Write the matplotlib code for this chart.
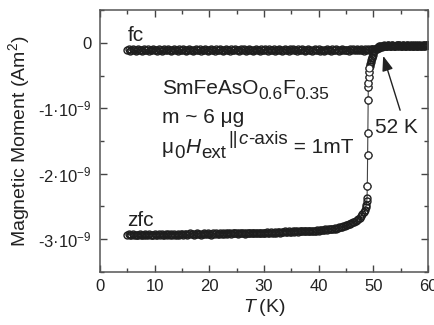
import numpy as np
import matplotlib.pyplot as plt
from matplotlib.ticker import MultipleLocator

plt.rcParams['font.family'] = ['Liberation Sans', 'DejaVu Sans']
plt.rcParams['mathtext.fontset'] = 'custom'
plt.rcParams['mathtext.rm'] = 'Liberation Sans'
plt.rcParams['mathtext.it'] = 'Liberation Sans:italic'
plt.rcParams['mathtext.bf'] = 'Liberation Sans:bold'

# field-cooled curve, T in K, moment in units of 1e-9 A m^2
fc_T = [5.0, 5.25, 5.5, 5.75, 6.0, 6.25, 6.5, 6.75,
        7.0, 7.25, 7.5, 7.75, 8.0, 8.25, 8.5, 8.75,
        9.0, 9.25, 9.5, 9.75, 10.0, 10.25, 10.5, 10.75,
        11.0, 11.25, 11.5, 11.75, 12.0, 12.25, 12.5, 12.75,
        13.0, 13.25, 13.5, 13.75, 14.0, 14.25, 14.5, 14.75,
        15.0, 15.25, 15.5, 15.75, 16.0, 16.25, 16.5, 16.75,
        17.0, 17.25, 17.5, 17.75, 18.0, 18.25, 18.5, 18.75,
        19.0, 19.25, 19.5, 19.75, 20.0, 20.25, 20.5, 20.75,
        21.0, 21.25, 21.5, 21.75, 22.0, 22.25, 22.5, 22.75,
        23.0, 23.25, 23.5, 23.75, 24.0, 24.25, 24.5, 24.75,
        25.0, 25.25, 25.5, 25.75, 26.0, 26.25, 26.5, 26.75,
        27.0, 27.25, 27.5, 27.75, 28.0, 28.25, 28.5, 28.75,
        29.0, 29.25, 29.5, 29.75, 30.0, 30.25, 30.5, 30.75,
        31.0, 31.25, 31.5, 31.75, 32.0, 32.25, 32.5, 32.75,
        33.0, 33.25, 33.5, 33.75, 34.0, 34.25, 34.5, 34.75,
        35.0, 35.25, 35.5, 35.75, 36.0, 36.25, 36.5, 36.75,
        37.0, 37.25, 37.5, 37.75, 38.0, 38.25, 38.5, 38.75,
        39.0, 39.25, 39.5, 39.75, 40.0, 40.25, 40.5, 40.75,
        41.0, 41.25, 41.5, 41.75, 42.0, 42.25, 42.5, 42.75,
        43.0, 43.25, 43.5, 43.75, 44.0, 44.25, 44.5, 44.75,
        45.0, 45.25, 45.5, 45.75, 46.0, 46.25, 46.5, 46.75,
        47.0, 47.25, 47.5, 47.75, 48.0, 48.25, 48.5, 48.75,
        49.0, 49.25, 49.5, 49.75, 50.0, 50.25, 50.5, 50.75,
        51.0, 51.25, 51.5, 51.75, 52.0, 52.25, 52.5, 52.75,
        53.0, 53.25, 53.5, 53.75, 54.0, 54.25, 54.5, 54.75,
        55.0, 55.25, 55.5, 55.75, 56.0, 56.25, 56.5, 56.75,
        57.0, 57.25, 57.5, 57.75, 58.0, 58.25, 58.5, 58.75,
        59.0, 59.25, 59.5, 59.75, 60.0]
fc_M = [-0.11, -0.10, -0.12, -0.11, -0.10, -0.11, -0.12, -0.11,
        -0.10, -0.11, -0.11, -0.12, -0.10, -0.11, -0.11, -0.10,
        -0.12, -0.11, -0.11, -0.10, -0.11, -0.11, -0.12, -0.10,
        -0.11, -0.12, -0.11, -0.10, -0.11, -0.11, -0.10, -0.11,
        -0.12, -0.11, -0.10, -0.11, -0.11, -0.12, -0.10, -0.11,
        -0.11, -0.10, -0.11, -0.12, -0.11, -0.10, -0.11, -0.11,
        -0.12, -0.11, -0.10, -0.11, -0.11, -0.10, -0.12, -0.11,
        -0.11, -0.10, -0.11, -0.12, -0.11, -0.10, -0.11, -0.11,
        -0.12, -0.10, -0.11, -0.11, -0.10, -0.11, -0.12, -0.11,
        -0.10, -0.11, -0.11, -0.12, -0.10, -0.11, -0.11, -0.10,
        -0.11, -0.11, -0.12, -0.10, -0.11, -0.10, -0.11, -0.12,
        -0.11, -0.10, -0.11, -0.11, -0.12, -0.11, -0.10, -0.11,
        -0.11, -0.12, -0.10, -0.11, -0.11, -0.10, -0.11, -0.12,
        -0.10, -0.11, -0.11, -0.10, -0.12, -0.11, -0.11, -0.10,
        -0.11, -0.12, -0.11, -0.10, -0.11, -0.11, -0.12, -0.10,
        -0.11, -0.10, -0.11, -0.11, -0.12, -0.10, -0.11, -0.11,
        -0.10, -0.11, -0.12, -0.11, -0.10, -0.11, -0.11, -0.12,
        -0.11, -0.10, -0.11, -0.11, -0.10, -0.12, -0.11, -0.11,
        -0.12, -0.11, -0.10, -0.11, -0.11, -0.12, -0.10, -0.11,
        -0.11, -0.10, -0.11, -0.12, -0.11, -0.10, -0.11, -0.11,
        -0.11, -0.11, -0.12, -0.10, -0.11, -0.10, -0.11, -0.11,
        -0.10, -0.11, -0.11, -0.10, -0.11, -0.12, -0.10, -0.11,
        -0.10, -0.11, -0.10, -0.10, -0.10, -0.10, -0.095, -0.09,
        -0.08, -0.07, -0.06, -0.055, -0.05, -0.045, -0.05, -0.04,
        -0.045, -0.05, -0.04, -0.045, -0.05, -0.04, -0.045, -0.04,
        -0.05, -0.045, -0.04, -0.05, -0.045, -0.04, -0.05, -0.045,
        -0.04, -0.05, -0.045, -0.04, -0.045, -0.05, -0.04, -0.045,
        -0.045, -0.04, -0.05, -0.04, -0.03]

# zero-field-cooled curve
zfc_T = [5.0, 5.25, 5.5, 5.75, 6.0, 6.25, 6.5, 6.75,
         7.0, 7.25, 7.5, 7.75, 8.0, 8.25, 8.5, 8.75,
         9.0, 9.25, 9.5, 9.75, 10.0, 10.25, 10.5, 10.75,
         11.0, 11.25, 11.5, 11.75, 12.0, 12.25, 12.5, 12.75,
         13.0, 13.25, 13.5, 13.75, 14.0, 14.25, 14.5, 14.75,
         15.0, 15.25, 15.5, 15.75, 16.0, 16.25, 16.5, 16.75,
         17.0, 17.25, 17.5, 17.75, 18.0, 18.25, 18.5, 18.75,
         19.0, 19.25, 19.5, 19.75, 20.0, 20.25, 20.5, 20.75,
         21.0, 21.25, 21.5, 21.75, 22.0, 22.25, 22.5, 22.75,
         23.0, 23.25, 23.5, 23.75, 24.0, 24.25, 24.5, 24.75,
         25.0, 25.25, 25.5, 25.75, 26.0, 26.25, 26.5, 26.75,
         27.0, 27.25, 27.5, 27.75, 28.0, 28.25, 28.5, 28.75,
         29.0, 29.25, 29.5, 29.75, 30.0, 30.25, 30.5, 30.75,
         31.0, 31.25, 31.5, 31.75, 32.0, 32.25, 32.5, 32.75,
         33.0, 33.25, 33.5, 33.75, 34.0, 34.25, 34.5, 34.75,
         35.0, 35.25, 35.5, 35.75, 36.0, 36.25, 36.5, 36.75,
         37.0, 37.25, 37.5, 37.75, 38.0, 38.25, 38.5, 38.75,
         39.0, 39.25, 39.5, 39.75, 40.0, 40.25, 40.5, 40.75,
         41.0, 41.25, 41.5, 41.75, 42.0, 42.25, 42.5, 42.75,
         43.0, 43.25, 43.5, 43.75, 44.0, 44.25, 44.5, 44.75,
         45.0, 45.25, 45.5, 45.75, 46.0, 46.25, 46.5, 46.75,
         47.0, 47.25, 47.5, 47.75, 48.0, 48.25, 48.5,
         48.6, 48.7, 48.8, 48.85, 48.9, 48.95, 49.0, 49.05, 49.08, 49.1,
         49.13, 49.16, 49.2, 49.3, 49.4, 49.5, 49.6, 49.7, 49.8, 49.9,
         50.0, 50.2, 50.4, 50.6, 50.8, 51.0, 51.25,
         51.5, 51.75, 52.0, 52.25, 52.5, 52.75, 53.0, 53.25, 53.5, 53.75,
         54.0, 54.25, 54.5, 54.75, 55.0, 55.25, 55.5, 55.75,
         56.0, 56.25, 56.5, 56.75, 57.0, 57.25, 57.5, 57.75,
         58.0, 58.25, 58.5, 58.75, 59.0, 59.25, 59.5, 59.75, 60.0]
zfc_M = [-2.93, -2.92, -2.94, -2.93, -2.92, -2.93, -2.94, -2.93,
         -2.93, -2.92, -2.93, -2.94, -2.93, -2.92, -2.93, -2.93,
         -2.92, -2.93, -2.94, -2.93, -2.92, -2.93, -2.93, -2.92,
         -2.93, -2.92, -2.93, -2.94, -2.92, -2.93, -2.92, -2.93,
         -2.92, -2.93, -2.92, -2.93, -2.93, -2.92, -2.93, -2.92,
         -2.92, -2.93, -2.92, -2.92, -2.93, -2.92, -2.91, -2.92,
         -2.92, -2.93, -2.92, -2.91, -2.92, -2.92, -2.93, -2.92,
         -2.91, -2.92, -2.92, -2.91, -2.92, -2.93, -2.92, -2.91,
         -2.92, -2.91, -2.92, -2.92, -2.91, -2.92, -2.91, -2.92,
         -2.91, -2.92, -2.91, -2.91, -2.92, -2.91, -2.90, -2.91,
         -2.91, -2.92, -2.91, -2.90, -2.91, -2.91, -2.92, -2.91,
         -2.90, -2.91, -2.91, -2.90, -2.91, -2.90, -2.91, -2.90,
         -2.91, -2.90, -2.90, -2.91, -2.90, -2.90, -2.89, -2.90,
         -2.90, -2.89, -2.90, -2.90, -2.89, -2.90, -2.89, -2.89,
         -2.90, -2.89, -2.89, -2.88, -2.89, -2.89, -2.88, -2.89,
         -2.89, -2.88, -2.89, -2.88, -2.88, -2.89, -2.88, -2.88,
         -2.88, -2.87, -2.88, -2.88, -2.87, -2.88, -2.87, -2.87,
         -2.87, -2.88, -2.87, -2.86, -2.87, -2.86, -2.86, -2.86,
         -2.86, -2.85, -2.86, -2.85, -2.85, -2.84, -2.85, -2.84,
         -2.83, -2.84, -2.83, -2.82, -2.81, -2.81, -2.80, -2.80,
         -2.79, -2.78, -2.77, -2.76, -2.75, -2.74, -2.73, -2.72,
         -2.71, -2.69, -2.67, -2.65, -2.62, -2.59, -2.55,
         -2.51, -2.47, -2.42, -2.37, -2.18, -1.72, -1.38, -0.88, -0.68, -0.62,
         -0.53, -0.44, -0.39, -0.35, -0.32, -0.29, -0.26, -0.23, -0.21, -0.18,
         -0.16, -0.13, -0.10, -0.08, -0.065, -0.055, -0.05,
         -0.05, -0.045, -0.04, -0.05, -0.045, -0.04, -0.05, -0.045, -0.04, -0.05,
         -0.045, -0.04, -0.05, -0.04, -0.045, -0.05, -0.04, -0.045,
         -0.05, -0.04, -0.045, -0.04, -0.05, -0.045, -0.04, -0.05,
         -0.045, -0.04, -0.05, -0.045, -0.04, -0.045, -0.04, -0.04, -0.03]

y_ticks = [-3e-9, -2e-9, -1e-9, 0]
y_ticklabels = ['-3·10$^{-9}$', '-2·10$^{-9}$', '-1·10$^{-9}$', '0']
x_ticks = [0, 10, 20, 30, 40, 50, 60]

fig = plt.figure(figsize=(4.35, 3.25), dpi=100)
ax = fig.add_axes([0.2299, 0.1631, 0.7540, 0.8061])

style = dict(marker='o', ms=5, mfc='none', mec='#1e1e1e', mew=1.0,
             color='#444444', lw=0.8)
ax.plot(fc_T, np.array(fc_M) * 1e-9, **style)
ax.plot(zfc_T, np.array(zfc_M) * 1e-9, **style)
# sparse points of the steep zfc step are drawn as clean open circles
ax.plot(zfc_T[179:188], np.array(zfc_M[179:188]) * 1e-9, ls='none',
        marker='o', ms=5, mfc='white', mec='#2a2a2a', mew=0.8)

ax.set_xlim(0, 60)
ax.set_ylim(-3.5e-9, 0.5e-9)
ax.set_xticks(x_ticks)
ax.set_yticks(y_ticks)
ax.set_yticklabels(y_ticklabels)
ax.xaxis.set_minor_locator(MultipleLocator(5))
ax.yaxis.set_minor_locator(MultipleLocator(0.5e-9))
ax.tick_params(which='both', direction='in', top=True, right=True,
               color='#444444', width=1.0, labelsize=12, labelcolor='#222222')
ax.tick_params(which='major', length=5)
ax.tick_params(which='minor', length=3)
ax.tick_params(axis='y', pad=6)
ax.tick_params(axis='x', pad=5)
for s in ax.spines.values():
    s.set_color('#555555')
    s.set_linewidth(1.1)

ax.set_xlabel('$\\mathit{T}$\u2009(K)', fontsize=14, color='#222222', labelpad=2)
ax.set_ylabel('Magnetic Moment (Am$^2$)', fontsize=14, color='#222222', labelpad=4)

tc = '#222222'


def rich(x, y, parts):
    # parts: (text, size, dx in points, dy in points, italic)
    prev = None
    for s, fs, dx, dy, it in parts:
        kw = dict(fontsize=fs, color=tc, va='baseline', ha='left',
                  style='italic' if it else 'normal',
                  xytext=(dx, dy), textcoords='offset points')
        if prev is None:
            prev = ax.annotate(s, xy=(x, y), xycoords='data', **kw)
        else:
            prev = ax.annotate(s, xy=(1, y), xycoords=(prev, 'data'), **kw)


ax.text(5.0, 0.02e-9, 'fc', fontsize=15, color=tc, va='baseline')
ax.text(4.9, -2.80e-9, 'zfc', fontsize=15, color=tc, va='baseline')
rich(11.3, -0.78e-9, [('SmFeAsO', 15, 0, 0, False), ('0.6', 12.5, 0, -3.6, False),
                      ('F', 15, 0, 0, False), ('0.35', 12.5, 0, -3.6, False)])
ax.text(11.3, -1.22e-9, 'm ~ 6 μg', fontsize=15, color=tc, va='baseline')
rich(11.3, -1.68e-9, [('μ', 15, 0, 0, False), ('0', 13.5, 0, -3.6, False),
                      ('H', 15, 0.5, 0, True), ('ext', 13.5, 0.5, -3.6, False),
                      ('||', 13.5, 2.0, 6.0, False), ('c', 13.5, 0.5, 6.0, True),
                      ('-axis', 13.5, 0, 6.0, False), (' = 1mT', 15, 0.5, 0, False)])
ax.text(50.3, -1.385e-9, '52 K', fontsize=15, color=tc, va='baseline')
ax.annotate('', xy=(51.8, -0.2e-9), xytext=(54.9, -1.03e-9),
            arrowprops=dict(arrowstyle='-|>,head_length=0.6,head_width=0.22',
                            mutation_scale=15, color='#222222', lw=1.0,
                            shrinkA=0, shrinkB=0))

fig.savefig('out.png', dpi=100)
